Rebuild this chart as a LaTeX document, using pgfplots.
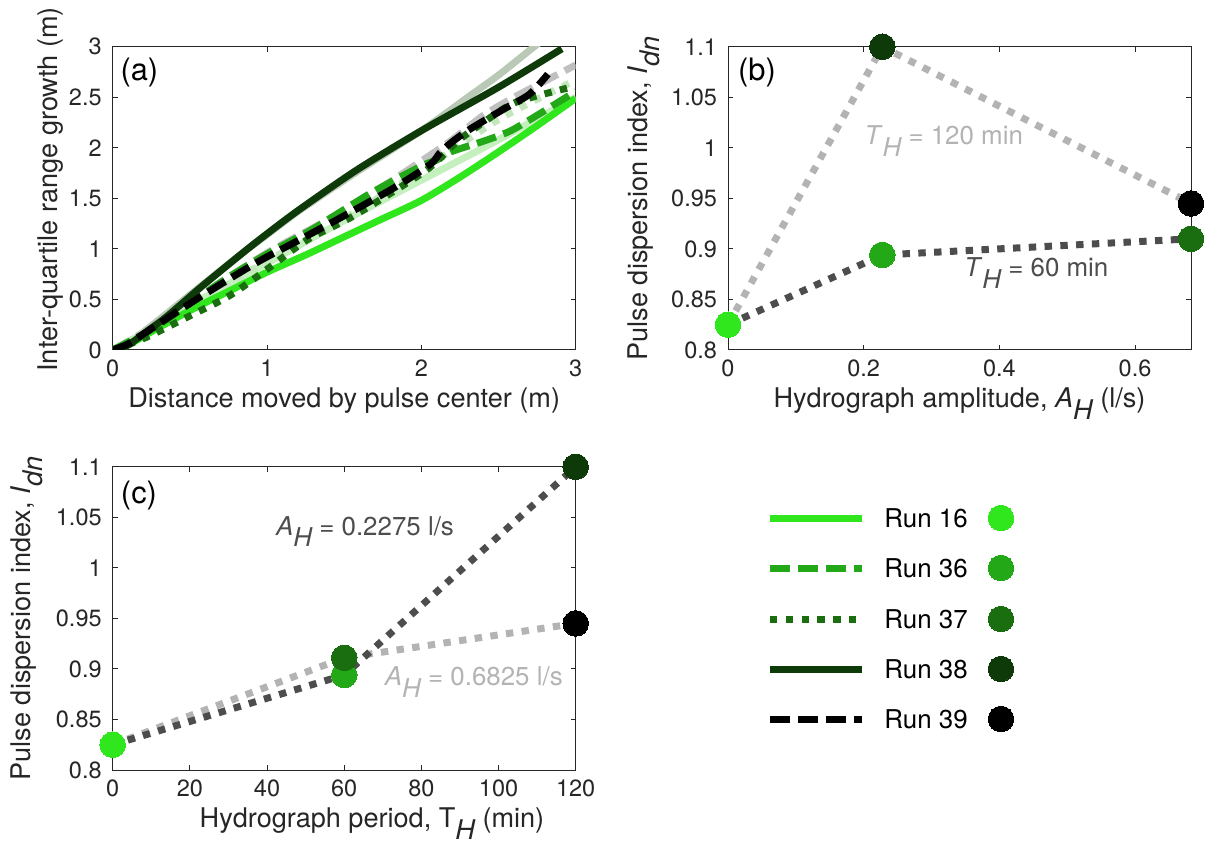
\documentclass[border=0pt]{standalone}
\usepackage{fontspec}
\setmainfont{TeX Gyre Heros}
\usepackage{pgfplots}
\pgfplotsset{compat=1.18}

\definecolor{rA}{HTML}{30E61C}
\definecolor{rB}{HTML}{23A818}
\definecolor{rC}{HTML}{1A6E10}
\definecolor{rD}{HTML}{0E3A0A}
\definecolor{lgray}{HTML}{B3B3B3}
\definecolor{dgray}{HTML}{4D4D4D}
\definecolor{axc}{HTML}{262626}
\definecolor{fA}{HTML}{B9C9B5}
\definecolor{fB}{HTML}{C4F0BD}
\definecolor{fC}{HTML}{C0C0C0}
\definecolor{fD}{HTML}{C3E6BD}

\newcommand{\sbs}[1]{\raisebox{-0.45em}{\itshape #1}}

\tikzset{
 mydot/.style={dash pattern=on 3.7bp off 4.2bp},
 mydash/.style={dash pattern=on 10bp off 4bp},
}

\pgfplotsset{
 myax/.style={
  scale only axis, width=231.5bp, height=151.6bp,
  axis line style={axc, line width=0.5bp},
  tick style={axc, line width=0.5bp},
  tick align=inside, major tick length=2.5bp,
  tick label style={font=\fontsize{11.8}{14}\selectfont, text=axc},
  label style={font=\fontsize{13.6}{16}\selectfont, text=axc},
  xticklabel style={yshift=-1.5bp},
  yticklabel style={xshift=-2bp},
  every axis plot/.append style={line width=3.5bp, line join=round},
  xlabel style={at={(axis description cs:0.5,-0.122)}, anchor=north, inner sep=0pt},
 },
 mk/.style={only marks, mark=*, mark size=6.4bp, color=#1, line width=0pt,
   mark options={solid, fill=#1, draw=#1, line width=0pt}},
}

\begin{document}
\begin{tikzpicture}
\useasboundingbox (0,0) rectangle (603.5bp,422.5bp);

% ---------------- (a)
\begin{axis}[myax, at={(56.35bp,247.5bp)}, anchor=south west,
  xmin=0, xmax=3, ymin=0, ymax=3,
  xtick={0,1,2,3}, xticklabels={0,1,2,3},
  ytick={0,0.5,1,1.5,2,2.5,3}, yticklabels={0,0.5,1,1.5,2,2.5,3},
  xlabel={Distance moved by pulse center (m)},
  ylabel={Inter-quartile range growth (m)},
  ylabel style={at={(axis description cs:-0.1635,0.53)}, anchor=north, inner sep=0pt},
  every axis plot/.append style={smooth, tension=0.45},
]
% faded runs
\addplot[fA] coordinates {(0,0) (0.1,0.07) (0.2,0.18) (0.35,0.36) (0.57,0.63) (0.85,0.97) (1.0,1.14) (1.21,1.38) (1.58,1.76) (2.0,2.17) (2.3,2.5) (2.5,2.72) (2.73,3.0) (2.8,3.08)};
\addplot[fB] coordinates {(0,0) (0.25,0.2) (0.5,0.44) (1,0.86) (1.5,1.28) (2.0,1.68) (2.5,2.08) (3,2.5)};
\addplot[fC, mydash] coordinates {(0,0) (0.25,0.22) (0.53,0.5) (0.66,0.63) (1.01,0.97) (1.36,1.26) (1.7,1.57) (2.0,1.87) (2.2,2.08) (2.4,2.32) (2.6,2.5) (2.8,2.66) (3,2.82)};
\addplot[fD, mydot] coordinates {(0,0) (0.5,0.43) (1,0.88) (1.5,1.3) (2.0,1.77) (2.2,1.98) (2.5,2.28) (2.8,2.52) (3,2.67)};
% main runs
\addplot[rA] coordinates {(0,0) (0.1,0.05) (0.25,0.18) (0.5,0.39) (0.75,0.58) (1,0.77) (1.25,0.94) (1.5,1.12) (1.75,1.3) (2.0,1.48) (2.25,1.71) (2.5,1.96) (2.75,2.22) (3,2.49)};
\addplot[rB, mydash] coordinates {(0,0) (0.25,0.2) (0.5,0.46) (0.75,0.72) (1,0.95) (1.3,1.2) (1.67,1.55) (2.0,1.82) (2.1,1.88) (2.19,1.96) (2.41,2.07) (2.58,2.17) (2.78,2.35) (3.0,2.56)};
\addplot[rC, mydot] coordinates {(0,0) (0.21,0.12) (0.49,0.33) (0.76,0.54) (1.01,0.81) (1.26,1.09) (1.53,1.3) (1.8,1.55) (2.05,1.8) (2.23,2.06) (2.4,2.25) (2.61,2.45) (2.97,2.6)};
\addplot[rD] coordinates {(0,0) (0.1,0.05) (0.2,0.16) (0.35,0.33) (0.57,0.62) (0.85,0.97) (1.0,1.15) (1.21,1.39) (1.58,1.78) (2.0,2.17) (2.5,2.6) (2.91,2.98)};
\addplot[black, mydash] coordinates {(0,0) (0.1,0.06) (0.21,0.17) (0.5,0.46) (0.71,0.66) (0.95,0.88) (1.21,1.09) (1.49,1.32) (1.84,1.62) (2.06,1.84) (2.12,1.95) (2.2,2.06) (2.32,2.19) (2.53,2.38) (2.7,2.53) (2.82,2.73)};
\node[anchor=north west, inner sep=0pt, font=\fontsize{15.5}{18}\selectfont, text=black] at (axis description cs:0.016,0.963) {(a)};
\end{axis}

% ---------------- (b)
\begin{axis}[myax, at={(364bp,247.5bp)}, anchor=south west, clip=false,
  xmin=0, xmax=0.6825, ymin=0.8, ymax=1.1,
  xtick={0,0.2,0.4,0.6}, xticklabels={0,0.2,0.4,0.6},
  ytick={0.8,0.85,0.9,0.95,1,1.05,1.1}, yticklabels={0.8,0.85,0.9,0.95,1,1.05,1.1},
  xlabel={Hydrograph amplitude, \textit{A}\sbs{H} (l/s)},
  ylabel={Pulse dispersion index, \textit{I}\sbs{dn}},
  ylabel style={at={(axis description cs:-0.2177,0.5)}, anchor=north, inner sep=0pt},
]
\addplot[lgray, mydot] coordinates {(0,0.825) (0.2275,1.1) (0.6825,0.945)};
\addplot[dgray, mydot] coordinates {(0,0.825) (0.2275,0.894) (0.6825,0.91)};
\addplot[mk=rA] coordinates {(0,0.825)};
\addplot[mk=rD] coordinates {(0.2275,1.1)};
\addplot[mk=rB] coordinates {(0.2275,0.894)};
\addplot[mk=black] coordinates {(0.6825,0.945)};
\addplot[mk=rC] coordinates {(0.6825,0.91)};
\node[text=lgray, font=\fontsize{13}{15}\selectfont] at (axis cs:0.318,1.007) {\textit{T}\sbs{H} = 120 min};
\node[text=dgray, font=\fontsize{13}{15}\selectfont] at (axis cs:0.4545,0.876) {\textit{T}\sbs{H} = 60 min};
\node[anchor=north west, inner sep=0pt, font=\fontsize{15.5}{18}\selectfont, text=black] at (axis description cs:0.021,0.963) {(b)};
\end{axis}

% ---------------- (c)
\begin{axis}[myax, at={(56.35bp,37.5bp)}, anchor=south west, clip=false,
  xmin=0, xmax=120, ymin=0.8, ymax=1.1,
  xtick={0,20,40,60,80,100,120}, xticklabels={0,20,40,60,80,100,120},
  ytick={0.8,0.85,0.9,0.95,1,1.05,1.1}, yticklabels={0.8,0.85,0.9,0.95,1,1.05,1.1},
  xlabel={Hydrograph period, T\sbs{H} (min)},
  xlabel style={at={(axis description cs:0.56,-0.122)}},
  ylabel={Pulse dispersion index, \textit{I}\sbs{dn}},
  ylabel style={at={(axis description cs:-0.222,0.5)}, anchor=north, inner sep=0pt},
]
\addplot[lgray, mydot] coordinates {(0,0.825) (60,0.911) (120,0.945)};
\addplot[dgray, mydot] coordinates {(0,0.825) (60,0.894) (120,1.1)};
\addplot[mk=rA] coordinates {(0,0.825)};
\addplot[mk=rB] coordinates {(60,0.894)};
\addplot[mk=rC] coordinates {(60,0.911)};
\addplot[mk=rD] coordinates {(120,1.1)};
\addplot[mk=black] coordinates {(120,0.945)};
\node[text=dgray, font=\fontsize{13}{15}\selectfont] at (axis cs:65.4,1.036) {\textit{A}\sbs{H} = 0.2275 l/s};
\node[text=lgray, font=\fontsize{13}{15}\selectfont] at (axis cs:93.6,0.887) {\textit{A}\sbs{H} = 0.6825 l/s};
\node[anchor=north west, inner sep=0pt, font=\fontsize{15.5}{18}\selectfont, text=black] at (axis description cs:0.017,0.955) {(c)};
\end{axis}

% ---------------- legend
\begin{axis}[at={(385bp,47.5bp)}, anchor=south west, scale only axis,
  width=125bp, height=125bp, hide axis, clip=false,
  xmin=770, xmax=1020, ymin=-750, ymax=-500]
\addplot[rA, line width=3.5bp] coordinates {(770,-518) (862,-518)};
\addplot[rB, line width=3.5bp, mydash] coordinates {(770,-568) (862,-568)};
\addplot[rC, line width=3.5bp, mydot] coordinates {(770,-619) (862,-619)};
\addplot[rD, line width=3.5bp] coordinates {(770,-669) (862,-669)};
\addplot[black, line width=3.5bp, mydash] coordinates {(770,-719) (862,-719)};
\addplot[mk=rA] coordinates {(1001,-518)};
\addplot[mk=rB] coordinates {(1001,-568)};
\addplot[mk=rC] coordinates {(1001,-619)};
\addplot[mk=rD] coordinates {(1001,-669)};
\addplot[mk=black] coordinates {(1001,-719)};
\node[anchor=west, inner sep=0pt, font=\fontsize{13}{15}\selectfont] at (axis cs:884,-518) {Run 16};
\node[anchor=west, inner sep=0pt, font=\fontsize{13}{15}\selectfont] at (axis cs:884,-568) {Run 36};
\node[anchor=west, inner sep=0pt, font=\fontsize{13}{15}\selectfont] at (axis cs:884,-619) {Run 37};
\node[anchor=west, inner sep=0pt, font=\fontsize{13}{15}\selectfont] at (axis cs:884,-669) {Run 38};
\node[anchor=west, inner sep=0pt, font=\fontsize{13}{15}\selectfont] at (axis cs:884,-719) {Run 39};
\end{axis}
\end{tikzpicture}
\end{document}
